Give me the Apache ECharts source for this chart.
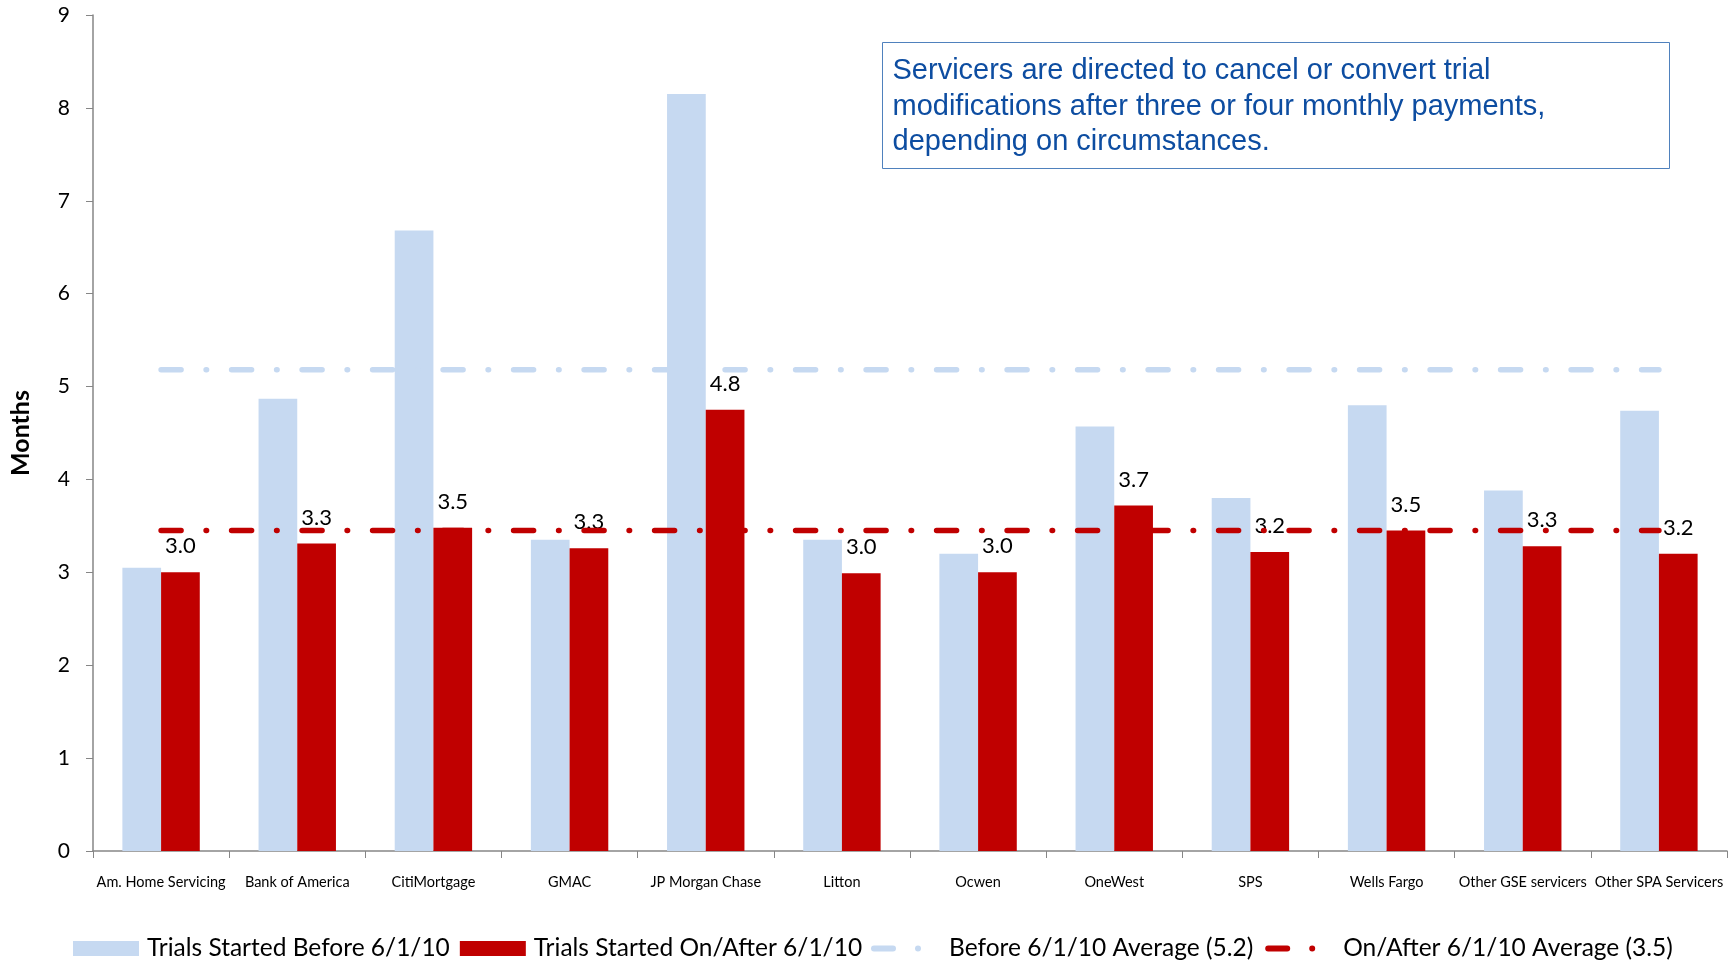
<!DOCTYPE html>
<html>
<head>
<meta charset="utf-8">
<script src="https://cdn.jsdelivr.net/npm/echarts@6/dist/echarts.min.js"></script>
<style>
html,body{margin:0;padding:0;background:#fff;}
#chart{width:1735px;height:960px;}
</style>
</head>
<body>
<div id="chart"></div>
<script>
const categories = ['Am. Home Servicing','Bank of America','CitiMortgage','GMAC','JP Morgan Chase','Litton','Ocwen','OneWest','SPS','Wells Fargo','Other GSE servicers','Other SPA Servicers'];
const beforeValues = [3.05, 4.87, 6.68, 3.35, 8.15, 3.35, 3.20, 4.57, 3.80, 4.80, 3.88, 4.74];
const afterValues  = [3.00, 3.31, 3.48, 3.26, 4.75, 2.99, 3.00, 3.72, 3.22, 3.45, 3.28, 3.20];
const beforeAvg = [5.18, 5.18, 5.18, 5.18, 5.18, 5.18, 5.18, 5.18, 5.18, 5.18, 5.18, 5.18];
const afterAvg  = [3.45, 3.45, 3.45, 3.45, 3.45, 3.45, 3.45, 3.45, 3.45, 3.45, 3.45, 3.45];
const seriesNames = ['Trials Started Before 6/1/10','Trials Started On/After 6/1/10','Before 6/1/10 Average (5.2)','On/After 6/1/10 Average (3.5)'];
const yTicks = [0, 9, 1];
const noteText = 'Servicers are directed to cancel or convert trial\nmodifications after three or four monthly payments,\ndepending on circumstances.';

const FONT = 'Lato';
const chart = echarts.init(document.getElementById('chart'));
const dashPattern = [20, 25, 0.5, 25];
const lineIcon = 'path://M3,0 L22,0 A3,3 0 0 1 22,6 L3,6 A3,3 0 0 1 3,0 Z M47,0 A3,3 0 1 1 47,6 A3,3 0 1 1 47,0 Z';
chart.setOption({
  animation: false,
  backgroundColor: '#ffffff',
  grid: {left: 92, right: 8, top: 15, bottom: 109, containLabel: false},
  legend: [
    {
      data: [seriesNames[0], seriesNames[1]],
      left: 68, top: 931,
      itemWidth: 66, itemHeight: 15, itemGap: 10,
      textStyle: {fontFamily: FONT, fontSize: 24.5, color: '#000', padding: [0,0,0,3]},
      icon: 'rect'
    },
    {
      data: [
        {name: seriesNames[2], icon: lineIcon, itemStyle: {color: '#C6D9F1'}},
        {name: seriesNames[3], icon: lineIcon, itemStyle: {color: '#C00000'}}
      ],
      left: 866, top: 931,
      itemWidth: 50, itemHeight: 6, itemGap: 12,
      textStyle: {fontFamily: FONT, fontSize: 24.5, color: '#000', padding: [0,0,0,23]}
    }
  ],
  xAxis: {
    type: 'category',
    data: categories,
    boundaryGap: true,
    axisLine: {lineStyle: {color: '#868686', width: 1.5}},
    axisTick: {show: true, alignWithLabel: false, length: 7, lineStyle: {color: '#868686'}},
    axisLabel: {fontFamily: FONT, fontSize: 14.5, color: '#000', margin: 24, interval: 0}
  },
  yAxis: {
    type: 'value',
    min: yTicks[0], max: yTicks[1], interval: yTicks[2],
    name: 'Months',
    nameLocation: 'middle',
    nameGap: 60,
    nameTextStyle: {fontFamily: FONT, fontSize: 25, fontWeight: 'bold', color: '#000'},
    axisLine: {show: true, lineStyle: {color: '#868686', width: 1.5}},
    axisTick: {show: true, length: 7, lineStyle: {color: '#868686'}},
    splitLine: {show: false},
    axisLabel: {fontFamily: FONT, fontSize: 21, color: '#000', margin: 23}
  },
  series: [
    {
      name: seriesNames[0], type: 'bar', data: beforeValues,
      barWidth: 38.7, barGap: '0%',
      itemStyle: {color: '#C6D9F1'}
    },
    {
      name: seriesNames[1], type: 'bar', data: afterValues,
      barWidth: 38.7,
      itemStyle: {color: '#C00000'},
      label: {show: true, position: 'top', distance: 15, fontFamily: FONT, fontSize: 22, color: '#000',
        formatter: p => p.value.toFixed(1)}
    },
    {
      name: seriesNames[2], type: 'line', data: beforeAvg,
      symbol: 'none',
      lineStyle: {color: '#C6D9F1', width: 5.5, type: dashPattern, cap: 'round'},
      itemStyle: {color: '#C6D9F1'},
      z: 3
    },
    {
      name: seriesNames[3], type: 'line', data: afterAvg,
      symbol: 'none',
      lineStyle: {color: '#C00000', width: 5.5, type: dashPattern, cap: 'round'},
      itemStyle: {color: '#C00000'},
      z: 3
    }
  ],
  graphic: [
    {
      type: 'group', left: 882, top: 42,
      children: [
        {type: 'rect', shape: {x: 0, y: 0, width: 787, height: 126},
          style: {fill: '#fff', stroke: '#4F81BD', lineWidth: 1}},
        {type: 'text', x: 10, y: 11,
          style: {text: noteText, fontFamily: 'Liberation Sans', fontSize: 29, lineHeight: 35.5, fill: '#0D4DA1'}}
      ]
    }
  ]
});
</script>
</body>
</html>
